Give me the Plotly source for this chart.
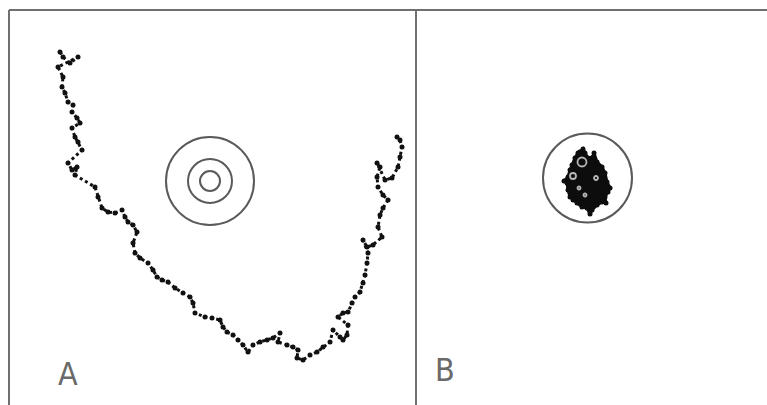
import plotly.graph_objects as go

# Trajectory of the animal in trial A (swim path readings, screen units)
path_a_x = [60, 63, 70, 78, 58, 63, 62, 65, 68, 73, 72, 77, 80, 72, 75, 78, 82, 68, 72, 77, 75,
            95, 98, 102, 108, 115, 122, 125, 128, 133, 137, 133, 135, 140, 148, 153, 157, 162, 168,
            175, 183, 190, 193, 195, 205, 212, 220, 223, 227, 233, 238, 243, 248, 253, 260, 267, 273,
            280, 278, 287, 293, 298, 297, 303, 310, 317, 323, 330, 333, 340, 343, 347, 348, 338, 343,
            348, 352, 355, 360, 363, 365, 367, 368, 363, 367, 373, 382, 378, 380, 383, 388, 383, 378,
            377, 380, 377, 385, 392, 398, 400, 402, 400, 397]
path_a_y = [52, 57, 63, 57, 67, 77, 87, 93, 102, 105, 112, 118, 123, 128, 137, 142, 150, 163, 170, 167, 175,
            187, 197, 208, 212, 213, 210, 217, 222, 225, 232, 243, 253, 258, 263, 270, 277, 280, 282,
            288, 293, 297, 303, 313, 317, 318, 320, 327, 332, 335, 340, 345, 352, 345, 342, 340, 338,
            333, 342, 345, 347, 350, 358, 360, 355, 352, 347, 342, 330, 337, 340, 335, 325, 317, 313,
            312, 303, 297, 292, 283, 275, 263, 253, 240, 247, 245, 237, 227, 215, 208, 200, 195, 187,
            177, 167, 163, 180, 178, 167, 157, 147, 140, 137]

# Outline of the dense search area in trial B and the light spots inside it
cluster_b_x = [580, 583, 585, 588, 593, 594, 597, 602, 605, 607, 610, 608, 605, 606, 602, 597, 592,
               590, 587, 582, 577, 573, 570, 568, 567, 564, 568, 570, 572, 575, 578, 580]
cluster_b_y = [152, 149, 153, 158, 157, 153, 162, 167, 173, 182, 188, 192, 197, 203, 202, 205, 210,
               214, 208, 207, 203, 200, 197, 190, 183, 181, 177, 170, 165, 158, 153, 152]
spots_b_x = [582, 573, 596, 585, 579]
spots_b_y = [162, 176, 178, 195, 188]
spots_b_size = [9, 6, 4, 3, 3]

# Platform rings: centre and radii for each panel
ring_a_center = (210, 181)
ring_a_radii = [44, 22, 10]
ring_b_center = (587.5, 178)
ring_b_radii = [44.5]

# Panel frame lines
frame_lines = [((9, 10), (767, 10)), ((9, 10), (9, 405)), ((416, 10), (416, 405))]

panel_labels = ["A", "B"]
label_pos = [(68, 374), (445, 370)]

fig = go.Figure()

fig.add_trace(go.Scatter(
    x=path_a_x, y=path_a_y, mode="lines",
    line=dict(color="#111111", width=3, dash="3px,3px"),
    hoverinfo="skip", showlegend=False))
fig.add_trace(go.Scatter(
    x=path_a_x, y=path_a_y, mode="markers",
    marker=dict(color="#111111", size=5, line=dict(width=0)),
    hoverinfo="skip", showlegend=False))

fig.add_trace(go.Scatter(
    x=cluster_b_x, y=cluster_b_y, mode="lines+markers", fill="toself",
    fillcolor="#0d0d0d", line=dict(color="#0d0d0d", width=3),
    marker=dict(color="#0d0d0d", size=5),
    hoverinfo="skip", showlegend=False))
fig.add_trace(go.Scatter(
    x=spots_b_x, y=spots_b_y, mode="markers",
    marker=dict(color="white", size=spots_b_size, symbol="circle-open",
                line=dict(color="white", width=1.8)),
    hoverinfo="skip", showlegend=False))

shapes = []
for (cx, cy), radii in ((ring_a_center, ring_a_radii), (ring_b_center, ring_b_radii)):
    for r in radii:
        shapes.append(dict(type="circle", xref="x", yref="y",
                           x0=cx - r, x1=cx + r, y0=cy - r, y1=cy + r,
                           line=dict(color="#5a5a5a", width=2)))
for (x0, y0), (x1, y1) in frame_lines:
    shapes.append(dict(type="line", xref="x", yref="y", x0=x0, y0=y0, x1=x1, y1=y1,
                       line=dict(color="#707070", width=2)))

annotations = []
for text, (lx, ly) in zip(panel_labels, label_pos):
    annotations.append(dict(x=lx, y=ly, xref="x", yref="y", text=text, showarrow=False,
                            font=dict(family="DejaVu Sans Condensed, Liberation Sans Narrow, sans-serif",
                                      size=32, color="#6a6a6a")))

fig.update_layout(
    width=767, height=405, autosize=False,
    margin=dict(l=0, r=0, t=0, b=0),
    paper_bgcolor="white", plot_bgcolor="white",
    shapes=shapes, annotations=annotations,
    xaxis=dict(range=[0, 767], visible=False, fixedrange=True),
    yaxis=dict(range=[405, 0], visible=False, fixedrange=True),
)

fig.write_html("out.html")
